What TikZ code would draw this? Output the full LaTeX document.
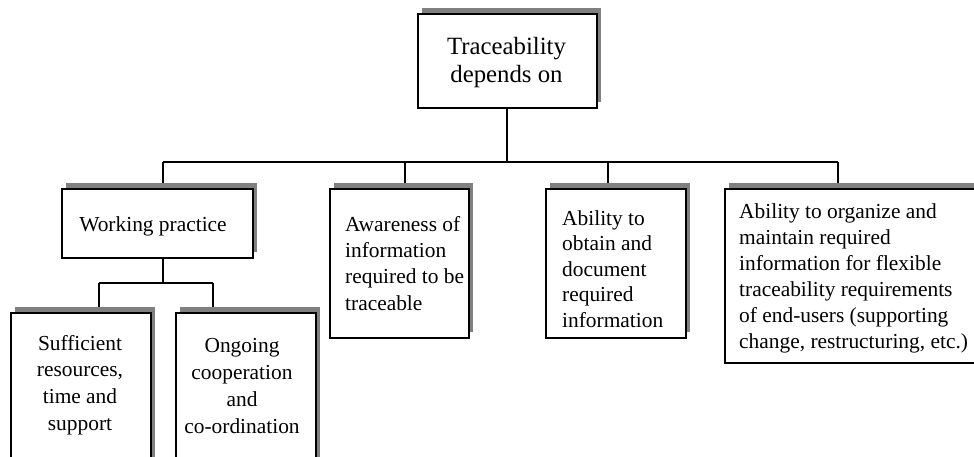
\documentclass[tikz,border=0pt]{standalone}
\usepackage{fontspec}
\setmainfont{Liberation Serif}
\usetikzlibrary{shadows}
\pgfdeclarelayer{paper}
\pgfdeclarelayer{wires}
\pgfsetlayers{paper,wires,main}
\newcommand\capline{\rule{0pt}{15.5pt}}
\newcommand\titleline{\rule{0pt}{18pt}}
\tikzset{
  card/.style={draw=black, line width=1.6pt, fill=white, inner sep=0pt,
    anchor=north west,
    drop shadow={shadow xshift=4.5pt, shadow yshift=6pt, fill=black!50, opacity=1}},
  wire/.style={line width=1.6pt, draw=black},
  txt/.style={inner sep=0pt, font=\fontsize{21.4pt}{#1}\selectfont},
  txt/.default=26pt,
  lefttxt/.style={txt=#1, anchor=north west, align=left},
  midtxt/.style={txt=#1, anchor=north, align=center},
}
\begin{document}
\begin{tikzpicture}[x=1pt,y=-1pt]
\useasboundingbox (0,0) rectangle (974,457);
\clip (0,0) rectangle (974,457);
\begin{pgfonlayer}{paper}
  \fill[white] (0,0) rectangle (974,457);
\end{pgfonlayer}

% boxes
\node[card, minimum width=179pt, minimum height=94pt]  (root)     at (417,13)  {};
\node[card, minimum width=191pt, minimum height=69pt]  (work)     at (61,188)  {};
\node[card, minimum width=139pt, minimum height=149pt] (aware)    at (329,188) {};
\node[card, minimum width=140pt, minimum height=149pt] (obtain)   at (545,188) {};
\node[card, minimum width=262pt, minimum height=174pt] (organize) at (724,188) {};
\node[card, minimum width=140pt, minimum height=160pt] (suff)     at (10,312)  {};
\node[card, minimum width=140pt, minimum height=160pt] (ongoing)  at (175,312) {};

% labels
\node[inner sep=0pt, anchor=north, align=center,
      font=\fontsize{24.8pt}{28pt}\selectfont] (t-root) at (506.5,36)
  {\titleline Traceability\\depends on};
\node[midtxt=26pt] (t-work) at (153,215.5) {\capline Working practice};
\node[lefttxt=26.3pt] (t-aware) at (345,215.5)
  {\capline Awareness of\\information\\required to be\\traceable};
\node[lefttxt=25.5pt] (t-obtain) at (562,209.5)
  {\capline Ability to\\obtain and\\document\\required\\information};
\node[lefttxt=26pt] (t-organize) at (739,202.5)
  {\capline Ability to organize and\\maintain required\\information for flexible\\traceability requirements\\of end-users (supporting\\change, restructuring, etc.)};
\node[midtxt=26.7pt] (t-suff) at (80,334.5)
  {\capline Sufficient\\resources,\\time and\\support};
\node[midtxt=27pt] (t-ongoing) at (242,336.5)
  {\capline Ongoing\\cooperation\\and\\co-ordination};

% connectors, kept beneath the boxes and their shadows
\coordinate (jroot)   at (507,162);
\coordinate (jwork)   at (163,162);
\coordinate (jaware)  at (405,162);
\coordinate (jobtain) at (608,162);
\coordinate (jorg)    at (838,162);
\coordinate (jsuff)   at (99,283);
\coordinate (jong)    at (213,283);
\begin{pgfonlayer}{wires}
  \draw[wire] (jroot |- root.south) -- (jroot);
  \draw[wire] (jwork) -- (jorg);
  \draw[wire] (jwork) -- (jwork |- work.north);
  \draw[wire] (jaware) -- (jaware |- aware.north);
  \draw[wire] (jobtain) -- (jobtain |- obtain.north);
  \draw[wire] (jorg) -- (jorg |- organize.north);
  \draw[wire] (jwork |- work.south) -- (jwork |- jsuff);
  \draw[wire] (jsuff) -- (jong);
  \draw[wire] (jsuff) -- (jsuff |- suff.north);
  \draw[wire] (jong) -- (jong |- ongoing.north);
\end{pgfonlayer}
\end{tikzpicture}
\end{document}
